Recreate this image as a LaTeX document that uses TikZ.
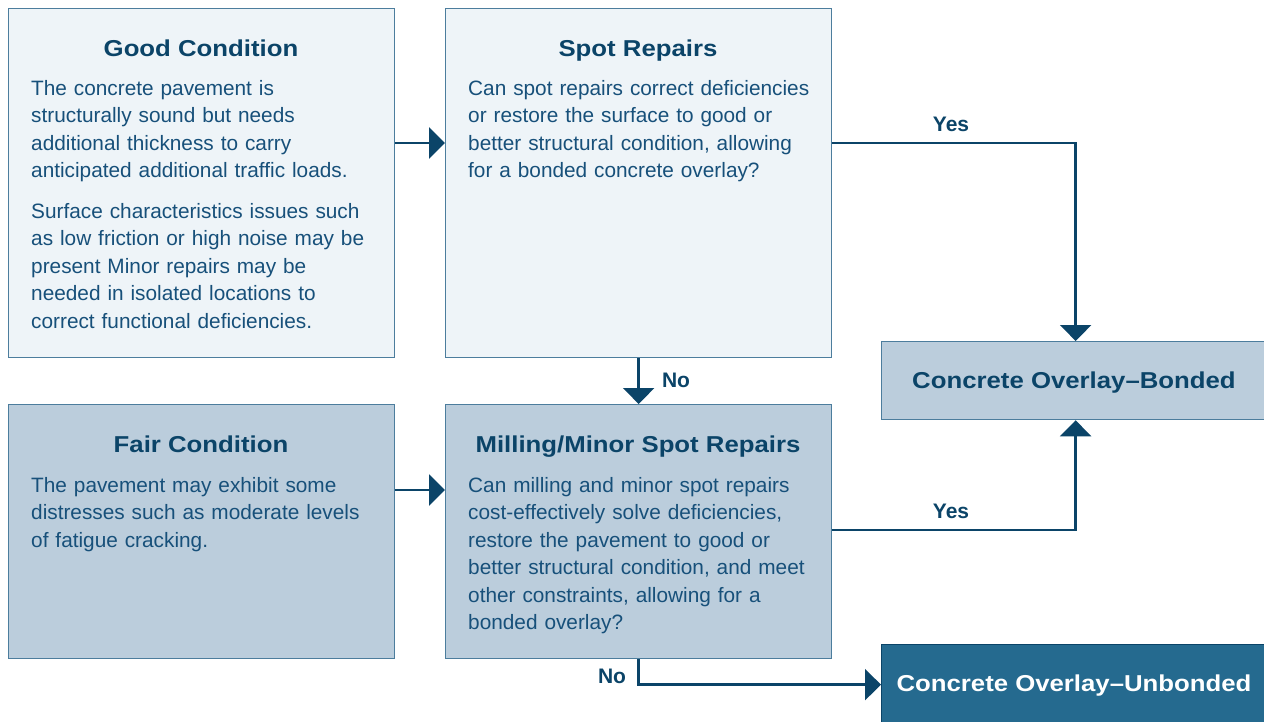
\documentclass[tikz,border=0pt]{standalone}
\usepackage{fontspec}
\setmainfont{Liberation Sans}
\newfontfamily\titlefont{Liberation Sans}[FakeStretch=1.12]
\usetikzlibrary{arrows.meta,positioning}
\definecolor{navy}{HTML}{0B4468}
\definecolor{bodytxt}{HTML}{17507A}
\definecolor{edge}{HTML}{4C7D9D}
\definecolor{lightfill}{HTML}{EEF4F8}
\definecolor{midfill}{HTML}{BBCDDC}
\definecolor{darkfill}{HTML}{256A8F}
\begin{document}
\begin{tikzpicture}[x=1pt,y=-1pt,
  box/.style={draw=edge, line width=1.3pt, anchor=north west, inner sep=0pt},
  lightbox/.style={box, fill=lightfill},
  midbox/.style={box, fill=midfill},
  darkbox/.style={box, fill=darkfill, draw=navy},
  titletxt/.style={text=navy, font=\titlefont\bfseries\fontsize{23}{27}\selectfont, inner sep=0pt, anchor=base},
  bodytext/.style={text=bodytxt, font=\fontsize{20.8}{27.5}\selectfont, align=left, anchor=north west, inner sep=0pt, text width=380pt},
  lbl/.style={text=navy, font=\bfseries\fontsize{21}{25}\selectfont, inner sep=0pt, anchor=base},
  arr/.style={draw=navy, line width=2.4pt, -{Triangle[length=16pt,width=31pt]}},
]
\useasboundingbox (0,0) rectangle (1264,721);
\fill[white] (0,0) rectangle (1264,721);

% boxes
\node[lightbox, minimum width=386pt, minimum height=349pt] (good) at (8,8) {};
\node[lightbox, minimum width=386pt, minimum height=349pt] (spot) at (445,8) {};
\node[midbox, minimum width=386pt, minimum height=254pt] (fair) at (8,404) {};
\node[midbox, minimum width=386pt, minimum height=254pt] (mill) at (445,404) {};
\node[midbox, minimum width=390pt, minimum height=78pt] (bonded) at (881,341) {};
\node[darkbox, minimum width=390pt, minimum height=80pt] (unbonded) at (881,644) {};

% titles
\node[titletxt] (goodT) at (201,56) {Good Condition};
\node[titletxt] (spotT) at (638,56) {Spot Repairs};
\node[titletxt] (fairT) at (201,452) {Fair Condition};
\node[titletxt] (millT) at (638,452) {Milling/Minor Spot Repairs};
\node[titletxt] (bondedT) at (1074,388) {Concrete Overlay–Bonded};
\node[titletxt, text=white] (unbondedT) at (1074,691) {Concrete Overlay–Unbonded};

% bodies
\node[bodytext] (goodB) at (31,80) {The concrete pavement is\\
structurally sound but needs\\
additional thickness to carry\\
anticipated additional traffic loads.\\[13pt]
Surface characteristics issues such\\
as low friction or high noise may be\\
present Minor repairs may be\\
needed in isolated locations to\\
correct functional deficiencies.};
\node[bodytext] (spotB) at (468,80) {Can spot repairs correct deficiencies\\
or restore the surface to good or\\
better structural condition, allowing\\
for a bonded concrete overlay?};
\node[bodytext] (fairB) at (31,477) {The pavement may exhibit some\\
distresses such as moderate levels\\
of fatigue cracking.};
\node[bodytext] (millB) at (468,477) {Can milling and minor spot repairs\\
cost-effectively solve deficiencies,\\
restore the pavement to good or\\
better structural condition, and meet\\
other constraints, allowing for a\\
bonded overlay?};

% connectors
\draw[arr] ([yshift=-135pt]good.north east) -- ([yshift=-135pt]spot.north west);
\draw[arr] ([yshift=-86pt]fair.north east) -- ([yshift=-86pt]mill.north west);
\draw[arr] ([yshift=-135pt]spot.north east) -| ([xshift=-1pt]bonded.north);
\draw[arr] (spot.south) -- (mill.north);
\draw[arr] ([yshift=-126pt]mill.north east) -| ([xshift=-1pt]bonded.south);
\draw[arr] (mill.south) |- (unbonded.west);

% labels
\node[lbl] (yes1) at (951,131) {Yes};
\node[lbl] (yes2) at (951,518) {Yes};
\node[lbl] (no1) at (676,387) {No};
\node[lbl] (no2) at (612,683) {No};
\end{tikzpicture}
\end{document}
